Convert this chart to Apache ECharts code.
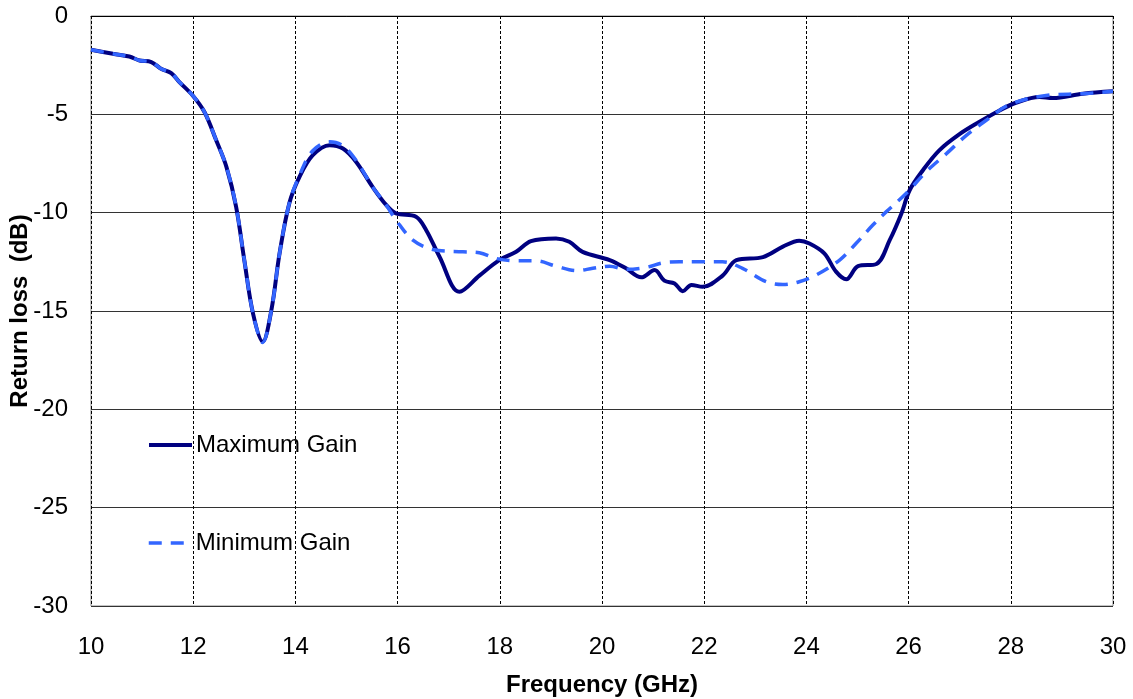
<!DOCTYPE html>
<html>
<head>
<meta charset="utf-8">
<script src="https://cdn.jsdelivr.net/npm/echarts@6/dist/echarts.min.js"></script>
<style>
html,body{margin:0;padding:0;background:#fff;}
#chart{width:1133px;height:699px;}
</style>
</head>
<body>
<div id="chart"></div>
<script>
// Maximum Gain (solid)
const maxFreq = [10, 10.43, 10.75, 10.95, 11.18, 11.37, 11.57, 11.73, 11.99, 12.22, 12.45, 12.65, 12.84, 13.0, 13.17, 13.36, 13.53, 13.69, 13.88, 14.08, 14.34, 14.67, 14.93, 15.19, 15.51, 15.78, 15.97, 16.36, 16.56, 16.82, 17.21, 17.6, 17.99, 18.32, 18.61, 19.1, 19.36, 19.62, 20.15, 20.47, 20.77, 21.03, 21.22, 21.42, 21.58, 21.75, 21.97, 22.36, 22.63, 23.15, 23.54, 23.86, 24.06, 24.35, 24.58, 24.78, 25.01, 25.37, 25.63, 25.86, 26.02, 26.28, 26.6, 26.99, 27.38, 27.78, 28.1, 28.56, 28.82, 29.41, 30];
const maxVal = [-1.72, -1.92, -2.06, -2.26, -2.34, -2.68, -2.9, -3.36, -4.04, -4.88, -6.32, -7.67, -9.7, -12.41, -15.12, -16.56, -14.95, -12.07, -9.53, -8.18, -7.08, -6.57, -6.74, -7.42, -8.69, -9.62, -10.04, -10.21, -10.89, -12.24, -14.02, -13.2, -12.41, -11.99, -11.45, -11.31, -11.48, -11.99, -12.41, -12.83, -13.29, -12.92, -13.46, -13.6, -13.99, -13.68, -13.77, -13.2, -12.41, -12.26, -11.73, -11.43, -11.57, -12.07, -13.0, -13.39, -12.72, -12.61, -11.4, -10.04, -8.86, -7.84, -6.83, -6.02, -5.39, -4.8, -4.41, -4.12, -4.17, -3.95, -3.83];
// Minimum Gain (dashed)
const minFreq = [10, 10.43, 10.75, 10.95, 11.18, 11.37, 11.57, 11.73, 11.99, 12.22, 12.45, 12.65, 12.84, 13.0, 13.17, 13.36, 13.53, 13.69, 13.88, 14.08, 14.34, 14.67, 14.93, 15.19, 15.51, 15.78, 15.97, 16.3, 16.69, 17.28, 17.6, 17.93, 18.32, 18.71, 19.1, 19.5, 19.82, 20.15, 20.47, 20.87, 21.19, 21.52, 21.91, 22.36, 22.75, 23.21, 23.54, 23.86, 24.19, 24.65, 24.97, 25.3, 25.56, 25.95, 26.34, 26.74, 27.13, 27.52, 27.97, 28.69, 29.41, 30];
const minVal = [-1.72, -1.92, -2.06, -2.26, -2.34, -2.68, -2.9, -3.36, -4.04, -4.88, -6.32, -7.67, -9.7, -12.41, -15.12, -16.6, -14.95, -12.07, -9.53, -8.1, -6.85, -6.4, -6.6, -7.35, -8.69, -9.62, -10.38, -11.4, -11.87, -11.99, -12.04, -12.33, -12.45, -12.45, -12.72, -12.95, -12.83, -12.72, -12.88, -12.78, -12.55, -12.5, -12.5, -12.5, -12.83, -13.51, -13.65, -13.51, -13.17, -12.41, -11.57, -10.63, -9.96, -9.03, -7.93, -7.0, -6.07, -5.3, -4.51, -4.04, -3.95, -3.83];

const seriesNames = ['Maximum Gain', 'Minimum Gain'];
const xAxisTitle = 'Frequency (GHz)';
const yAxisTitle = 'Return loss  (dB)';

function pairs(xs, ys) { return xs.map((x, i) => [x, ys[i]]); }

const font = 'Liberation Sans, Arial, sans-serif';
const legendCommon = {
  orient: 'vertical', padding: 0, itemWidth: 43, itemHeight: 14, itemGap: 0,
  itemStyle: {opacity: 0, borderWidth: 0},
  textStyle: {fontSize: 24, color: '#000', fontFamily: font, padding: [0, 0, 0, -1]}
};
const chart = echarts.init(document.getElementById('chart'), null, {renderer: 'canvas'});
chart.setOption({
  animation: false,
  backgroundColor: '#fff',
  textStyle: {fontFamily: font},
  grid: {left: 91, right: 20, top: 16, bottom: 93, show: true, borderColor: '#888', borderWidth: 1,
         containLabel: false, outerBoundsMode: 'none'},
  legend: [
    Object.assign({data: [seriesNames[0]], left: 147, top: 433, lineStyle: {width: 4}}, legendCommon),
    Object.assign({data: [seriesNames[1]], left: 147, top: 531, lineStyle: {width: 3.5}}, legendCommon)
  ],
  xAxis: {
    type: 'value', min: 10, max: 30, interval: 2,
    name: xAxisTitle, nameLocation: 'middle', nameGap: 67, nameMoveOverlap: false,
    nameTextStyle: {fontSize: 24, fontWeight: 'bold', color: '#000', fontFamily: font},
    axisLine: {show: true, lineStyle: {color: '#000', width: 1}},
    axisTick: {show: false},
    axisLabel: {fontSize: 24, color: '#000', margin: 29, fontFamily: font},
    splitLine: {show: true, lineStyle: {color: '#000', type: [3, 2], width: 1}}
  },
  yAxis: {
    type: 'value', min: -30, max: 0, interval: 5,
    name: yAxisTitle, nameLocation: 'middle', nameGap: 59, nameMoveOverlap: false,
    nameTextStyle: {fontSize: 24, fontWeight: 'bold', color: '#000', fontFamily: font},
    axisLine: {show: false},
    axisTick: {show: false},
    axisLabel: {fontSize: 24, color: '#000', margin: 23, fontFamily: font},
    splitLine: {show: true, lineStyle: {color: '#333', width: 1}}
  },
  series: [
    {name: seriesNames[0], type: 'line', data: pairs(maxFreq, maxVal), smooth: 0.35, symbol: 'none',
     lineStyle: {color: '#000080', width: 4}, itemStyle: {color: '#000080'}, z: 2},
    {name: seriesNames[1], type: 'line', data: pairs(minFreq, minVal), smooth: 0.35, symbol: 'none',
     lineStyle: {color: '#3366ff', width: 3.5, type: [13, 9]}, itemStyle: {color: '#3366ff'}, z: 3}
  ]
});
</script>
</body>
</html>
